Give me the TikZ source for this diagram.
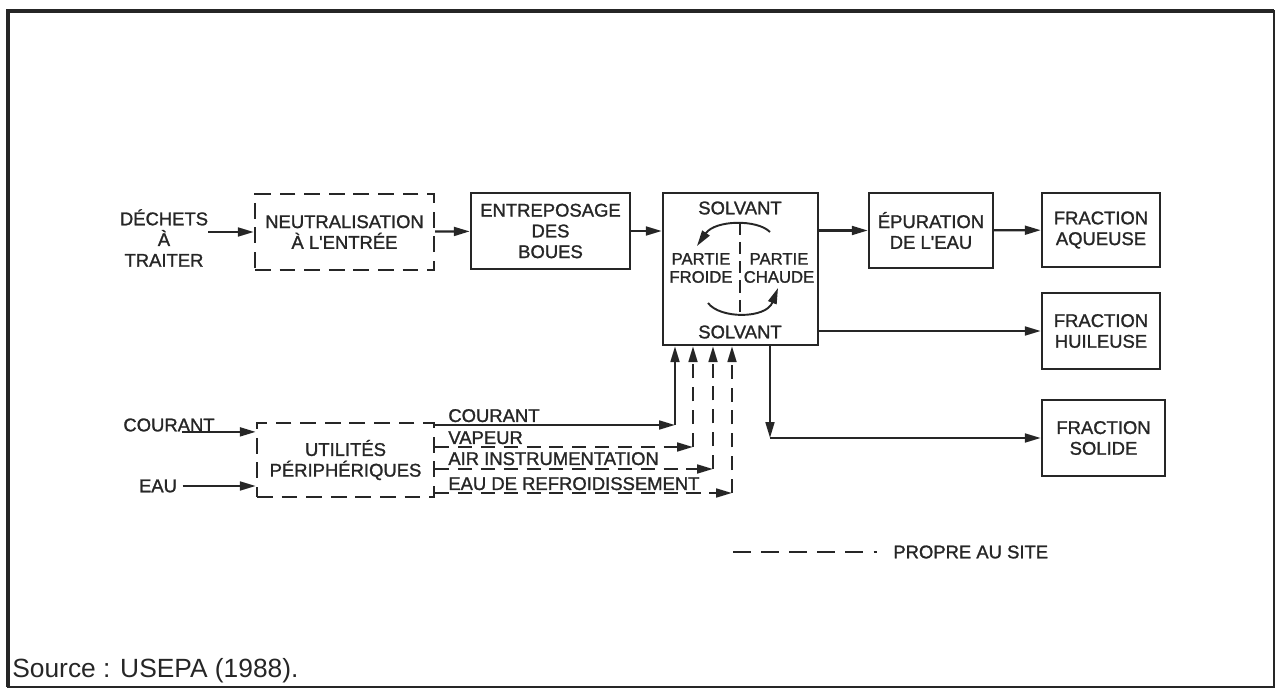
\documentclass[tikz,border=0pt]{standalone}
\usepackage{fontspec}
\setmainfont{Liberation Sans}
\newfontfamily\heavy{Liberation Sans}[FakeBold=1.3]
\usetikzlibrary{arrows.meta}
\definecolor{ink}{HTML}{262626}

\begin{document}
\begin{tikzpicture}[x=0.02cm,y=-0.02cm,
    every node/.style={text=ink},
    font=\heavy\fontsize{10.5}{11.8}\selectfont,
    box/.style={draw=ink,line width=1.4pt,align=center,inner sep=0pt},
    dbox/.style={box,dash pattern=on 9pt off 5pt},
    flow/.style={draw=ink,line width=1.3pt,-{Triangle[length=9pt,width=5pt]}},
    dflow/.style={flow,dash pattern=on 8pt off 5pt},
    lab/.style={anchor=base west,inner sep=0pt},
    small/.style={align=center,inner sep=0pt,font=\heavy\fontsize{9.5}{10.3}\selectfont}]
    \useasboundingbox (0,0) rectangle (1276,689);
    % cadre
    \draw[ink,line width=1.2pt] (8,11) rectangle (1274,687);
    \draw[ink,line width=2.4pt] (8,687) -- (8,11) -- (1274,11);

    % chaine principale
    \node[align=center,inner sep=0pt] (dechets) at (164,238) {DÉCHETS\\À\\TRAITER};
    \node[dbox,minimum width=3.58cm,minimum height=1.52cm] (neutral) at (344.5,232) {NEUTRALISATION\\À L'ENTRÉE};
    \node[box,minimum width=3.18cm,minimum height=1.52cm] (entrepo) at (550.5,231) {ENTREPOSAGE\\DES\\BOUES};
    \node[box,minimum width=3.1cm,minimum height=3.04cm] (separ) at (740.5,269) {};
    \node[box,minimum width=2.48cm,minimum height=1.5cm] (epur) at (931,230.5) {ÉPURATION\\DE L'EAU};
    \node[box,minimum width=2.36cm,minimum height=1.48cm] (aqueuse) at (1101,230) {FRACTION\\AQUEUSE};
    \node[box,minimum width=2.36cm,minimum height=1.52cm] (huileuse) at (1101,331) {FRACTION\\HUILEUSE};
    \node[box,minimum width=2.46cm,minimum height=1.52cm] (solide) at (1103.5,438) {FRACTION\\SOLIDE};

    % interieur du separateur
    \node (solv1) at (740,208) {SOLVANT};
    \node (solv2) at (740,332) {SOLVANT};
    \node[small] (froide) at (701,268) {PARTIE\\FROIDE};
    \node[small] (chaude) at (779,268) {PARTIE\\CHAUDE};
    \draw[ink,line width=1.1pt,dash pattern=on 7pt off 4pt,shorten <=1pt,shorten >=4pt] (solv1.south) -- (solv2.north);
    \draw[flow,line width=1.1pt] (770,232) .. controls (757,219) and (715,220) .. (697,246);
    \draw[flow,line width=1.1pt] (708,303) .. controls (720,319) and (766,319) .. (778,288);

    \draw[flow] (dechets.east |- neutral.west) -- (neutral.west);
    \draw[flow] (neutral) -- (entrepo);
    \draw[flow] (entrepo) -- (separ.west |- entrepo);
    \draw[flow] (separ.east |- epur) -- (epur);
    \draw[flow] (epur) -- (aqueuse);
    \draw[flow] (separ.east |- huileuse) -- (huileuse);
    \coordinate (coin) at (770,438);
    \draw[flow] (separ.south -| coin) -- (coin);
    \draw[flow] (coin) -- (solide);

    % utilites
    \node[dbox,minimum width=3.54cm,minimum height=1.48cm] (utilites) at (345.5,460) {UTILITÉS\\PÉRIPHÉRIQUES};
    \node[inner sep=0pt] (courant) at (169,425) {COURANT};
    \node[inner sep=0pt] (eau) at (158,486) {EAU};
    \draw[flow] ([xshift=-0.66cm]courant.south east) -- (utilites.west |- courant.south);
    \draw[flow] ([xshift=3pt]eau.east) -- (utilites.west |- eau.east);

    \coordinate (c1) at (675,425);
    \coordinate (c2) at (693,447);
    \coordinate (c3) at (713,469);
    \coordinate (c4) at (732,493);
    \node[lab] (lc) at (448,422) {COURANT};
    \node[lab] (lv) at (448,444) {VAPEUR};
    \node[lab] (la) at (448,465) {AIR INSTRUMENTATION};
    \node[lab] (le) at (448,490) {EAU DE REFROIDISSEMENT};
    \draw[flow] (utilites.east |- c1) -- (c1);
    \draw[flow] (c1) -- (separ.south -| c1);
    \draw[dflow] (utilites.east |- c2) -- (c2);
    \draw[dflow] (c2) -- (separ.south -| c2);
    \draw[dflow] (utilites.east |- c3) -- (c3);
    \draw[dflow] (c3) -- (separ.south -| c3);
    \draw[dflow] (utilites.east |- c4) -- (c4);
    \draw[dflow] (c4) -- (separ.south -| c4);

    % legende
    \node[anchor=west,inner sep=0pt] (propre) at (893,552) {PROPRE AU SITE};
    \coordinate (leg) at (733,552);
    \draw[ink,line width=1.2pt,dash pattern=on 10pt off 6pt] (leg) -- ([xshift=-9pt]propre.west);

    \node[anchor=base west,inner sep=0pt,font=\fontsize{15}{18}\selectfont] (source) at (12,677) {Source : USEPA (1988).};
  \end{tikzpicture}
\end{document}
